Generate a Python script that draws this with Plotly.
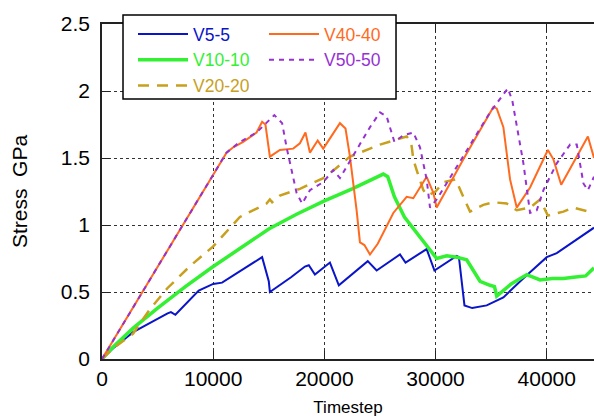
import plotly.graph_objects as go

# ---------------- data ----------------
v5_x = [0, 1000, 2800, 4500, 5900, 6200, 6600, 8700, 10000, 10800, 12500, 14400, 15000, 15100,
        17000, 18250, 18600, 19150, 20500, 21300, 23900, 24700, 26800, 27300, 29200, 29900,
        31900, 32100, 32600, 33300, 34600, 36100, 38000, 40000, 40900, 42500, 44250]
v5_y = [0, 0.08, 0.20, 0.28, 0.34, 0.35, 0.33, 0.51, 0.56, 0.57, 0.66, 0.76, 0.58, 0.50,
        0.61, 0.69, 0.70, 0.63, 0.72, 0.55, 0.73, 0.66, 0.78, 0.72, 0.82, 0.66,
        0.77, 0.76, 0.40, 0.38, 0.40, 0.46, 0.61, 0.76, 0.79, 0.88, 0.98]

v10_x = [0, 1000, 2800, 5000, 7500, 10000, 12500, 15000, 17500, 20000, 22500, 25300, 25700,
         26300, 27200, 28300, 29200, 30100, 31000, 31900, 32800, 33500, 34000, 34900, 35300,
         35500, 36800, 38200, 39400, 40500, 41500, 42400, 43500, 44250]
v10_y = [0, 0.09, 0.23, 0.38, 0.54, 0.69, 0.83, 0.97, 1.08, 1.18, 1.27, 1.38, 1.36,
         1.21, 1.06, 0.94, 0.84, 0.75, 0.77, 0.76, 0.74, 0.65, 0.58, 0.55, 0.54,
         0.47, 0.56, 0.63, 0.59, 0.60, 0.60, 0.61, 0.62, 0.68]

v20_x = [0, 1000, 2800, 4300, 5900, 8000, 10000, 12400, 14800, 15100, 15300, 16000, 17800,
         19900, 21000, 22300, 24100, 25000, 26200, 27400, 27800, 28000, 28300, 28900, 29300,
         30000, 30700, 31800, 32500, 33100, 34300, 35200, 36400, 37300, 38500, 39400, 40100,
         41500, 42400, 44250]
v20_y = [0, 0.08, 0.19, 0.37, 0.53, 0.70, 0.84, 1.06, 1.16, 1.19, 1.17, 1.22, 1.27,
         1.35, 1.42, 1.51, 1.57, 1.60, 1.63, 1.66, 1.62, 1.49, 1.41, 1.26, 1.22,
         1.25, 1.32, 1.34, 1.21, 1.10, 1.15, 1.17, 1.16, 1.11, 1.13, 1.19, 1.07,
         1.10, 1.13, 1.09]

v40_x = [0, 11200, 11800, 12700, 13900, 14400, 14700, 15100, 16000, 17200, 17800, 18300, 18700,
         19400, 19900, 21400, 21900, 22300, 22900, 23200, 23600, 24100, 24800, 26200, 27400,
         28000, 29200, 29800, 30100, 32500, 35200, 35500, 36100, 36700, 37300, 38500, 40100,
         40600, 41300, 42700, 43700, 44250]
v40_y = [0, 1.54, 1.58, 1.62, 1.69, 1.77, 1.75, 1.51, 1.56, 1.57, 1.61, 1.69, 1.54,
         1.63, 1.57, 1.76, 1.72, 1.51, 1.11, 0.87, 0.85, 0.78, 0.86, 1.09, 1.21,
         1.20, 1.36, 1.24, 1.13, 1.49, 1.88, 1.87, 1.73, 1.34, 1.13, 1.28, 1.56,
         1.49, 1.30, 1.51, 1.66, 1.50]

v50_x = [0, 11200, 12400, 13900, 15500, 16200, 16600, 17200, 17500, 18000, 18700, 19900, 20800,
         21400, 22900, 24100, 25000, 25600, 26300, 27100, 28000, 28600, 29200, 29500, 30100,
         34900, 36500, 36900, 37900, 38500, 39100, 39700, 40900, 42100, 42700, 43300, 43700,
         44250]
v50_y = [0, 1.54, 1.62, 1.69, 1.82, 1.76, 1.58, 1.34, 1.24, 1.16, 1.26, 1.32, 1.41,
         1.35, 1.56, 1.73, 1.84, 1.81, 1.62, 1.67, 1.69, 1.58, 1.34, 1.13, 1.19,
         1.84, 2.02, 1.93, 1.46, 1.09, 1.11, 1.26, 1.46, 1.60, 1.60, 1.31, 1.26,
         1.36]

names = ["V5-5", "V10-10", "V20-20", "V40-40", "V50-50"]
y_ticks = [0, 0.5, 1, 1.5, 2, 2.5]
y_tick_text = ["0", "0.5", "1", "1.5", "2", "2.5"]
x_ticks = [0, 10000, 20000, 30000, 40000]

# ---------------- styles ----------------
colors = ["#0a14c8", "#33f033", "#c8a01e", "#ff6a1e", "#9632d2"]
widths = [2, 3.5, 2.5, 2, 2]
dashes = ["solid", "solid", "11px,8px", "solid", "5px,5px"]
legends = ["legend", "legend", "legend", "legend2", "legend2"]
xs = [v5_x, v10_x, v20_x, v40_x, v50_x]
ys = [v5_y, v10_y, v20_y, v40_y, v50_y]

FONT = "Liberation Sans, Arial, sans-serif"

fig = go.Figure()
for i in range(5):
    fig.add_trace(go.Scatter(
        x=xs[i], y=ys[i], mode="lines",
        name=f"<span style='color:{colors[i]}'>{names[i]}</span>",
        line=dict(color=colors[i], width=widths[i], dash=dashes[i]),
        legend=legends[i],
    ))

fig.add_shape(type="rect", xref="paper", yref="paper",
              x0=0.0427, x1=0.5976, y0=0.776, y1=1.027,
              line=dict(color="black", width=1.5), fillcolor="white", layer="above")

legend_common = dict(
    bgcolor="rgba(0,0,0,0)", borderwidth=0, orientation="v",
    font=dict(family=FONT, size=17.5), itemwidth=50,
    xanchor="left", yanchor="top", tracegroupgap=0,
)

fig.update_layout(
    width=594, height=417,
    margin=dict(l=102, r=0, t=24, b=58),
    paper_bgcolor="white", plot_bgcolor="white",
    font=dict(family=FONT, color="black"),
    legend=dict(x=(133 - 102) / 492, y=(359 - 16) / 335, **legend_common),
    legend2=dict(x=(264 - 102) / 492, y=(359 - 16) / 335, **legend_common),
    xaxis=dict(
        range=[0, 44250], tickvals=x_ticks, ticktext=[str(v) for v in x_ticks],
        showline=True, linecolor="#222", linewidth=1.5, mirror="ticks",
        ticks="inside", ticklen=8, tickcolor="#222",
        showgrid=True, gridcolor="#333", gridwidth=1, griddash="dot",
        zeroline=False, tickfont=dict(size=21, family=FONT),
        title=dict(text="Timestep", font=dict(size=17, family=FONT), standoff=12),
    ),
    yaxis=dict(
        range=[0, 2.5], tickvals=y_ticks, ticktext=y_tick_text,
        showline=True, linecolor="#222", linewidth=1.5, mirror=False,
        ticks="inside", ticklen=8, tickcolor="#222",
        showgrid=True, gridcolor="#333", gridwidth=1, griddash="dot",
        zeroline=False, tickfont=dict(size=21, family=FONT),
        ticklabelstandoff=6,
        title=dict(text="Stress  GPa", font=dict(size=21, family=FONT), standoff=27),
    ),
)

fig.write_html("out.html")
